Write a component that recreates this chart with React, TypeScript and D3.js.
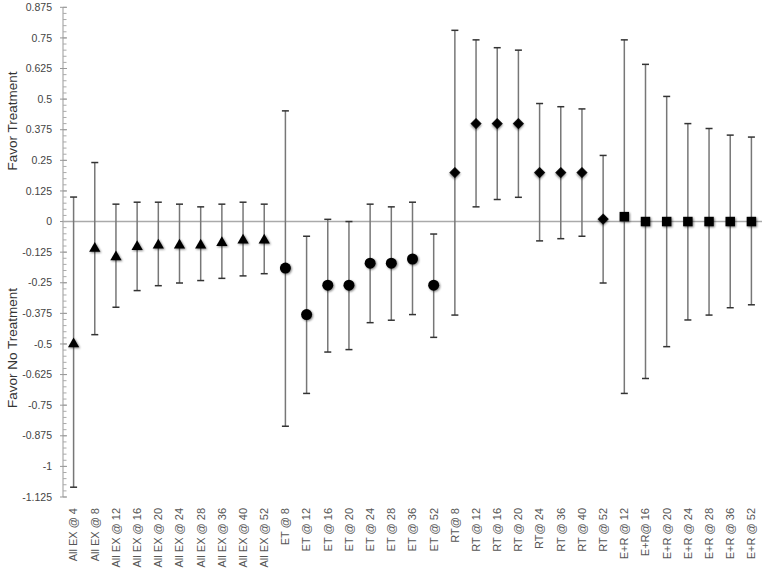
import React from 'react';
import * as d3 from 'd3';

const labels = [
  "All EX @ 4", "All EX @ 8", "All EX @ 12", "All EX @ 16", "All EX @ 20", "All EX @ 24",
  "All EX @ 28", "All EX @ 36", "All EX @ 40", "All EX @ 52",
  "ET @ 8", "ET @ 12", "ET @ 16", "ET @ 20", "ET @ 24", "ET @ 28", "ET @ 36", "ET @ 52",
  "RT@ 8", "RT @ 12", "RT @ 16", "RT @ 20", "RT@ 24", "RT @ 36", "RT @ 40", "RT @ 52",
  "E+R @ 12", "E+R@ 16", "E+R @ 20", "E+R @ 24", "E+R @ 28", "E+R @ 36", "E+R @ 52"
];

// marker group per category
const groups = [
  "tri", "tri", "tri", "tri", "tri", "tri", "tri", "tri", "tri", "tri",
  "circle", "circle", "circle", "circle", "circle", "circle", "circle", "circle",
  "diamond", "diamond", "diamond", "diamond", "diamond", "diamond", "diamond", "diamond",
  "square", "square", "square", "square", "square", "square", "square"
];

const estimates = [
  -0.5, -0.11, -0.145, -0.103, -0.097, -0.097, -0.097, -0.087, -0.076, -0.076,
  -0.19, -0.38, -0.26, -0.26, -0.17, -0.17, -0.153, -0.26,
  0.2, 0.4, 0.4, 0.4, 0.2, 0.2, 0.2, 0.01,
  0.02, 0, 0, 0, 0, 0, 0
];

const upper = [
  0.1, 0.241, 0.071, 0.079, 0.079, 0.071, 0.06, 0.071, 0.079, 0.071,
  0.452, -0.06, 0.009, 0.0, 0.071, 0.06, 0.079, -0.051,
  0.781, 0.742, 0.71, 0.7, 0.482, 0.469, 0.46, 0.27,
  0.742, 0.642, 0.511, 0.4, 0.38, 0.353, 0.345
];

const lower = [
  -1.085, -0.462, -0.35, -0.282, -0.262, -0.251, -0.241, -0.232, -0.222, -0.213,
  -0.836, -0.702, -0.533, -0.523, -0.413, -0.403, -0.38, -0.473,
  -0.382, 0.06, 0.09, 0.099, -0.079, -0.07, -0.06, -0.251,
  -0.702, -0.641, -0.511, -0.402, -0.382, -0.352, -0.34
];

const yTicks = [0.875, 0.75, 0.625, 0.5, 0.375, 0.25, 0.125, 0, -0.125, -0.25, -0.375, -0.5,
  -0.625, -0.75, -0.875, -1, -1.125];

const width = 764;
const height = 573;
const marginLeft = 63;
const marginRight = 2;

const App = () => {
  const x = d3.scaleBand<string>()
    .domain(labels)
    .range([marginLeft, width - marginRight])
    .padding(0);

  const y = d3.scaleLinear()
    .domain([-1.125, 0.875])
    .range([497, 7.3]);

  const cx = (i: number) => (x(labels[i]) as number) + x.bandwidth() / 2;

  const minorTicks = d3.range(-1.125, 0.8751, 0.025);

  const tri = d3.symbol().type(d3.symbolTriangle).size(55)() as string;
  const sq = d3.symbol().type(d3.symbolSquare).size(90)() as string;
  const dia = d3.symbol().type(d3.symbolSquare).size(62)() as string;

  const marker = (g: string, i: number) => {
    const px = cx(i);
    const py = y(estimates[i]);
    if (g === "circle") return <circle key={i} cx={px} cy={py} r={5.5} fill="#000" filter="url(#sh)" />;
    if (g === "tri") return <path key={i} d={tri} transform={`translate(${px},${py})`} fill="#000" filter="url(#sh)" />;
    if (g === "square") return <path key={i} d={sq} transform={`translate(${px},${py})`} fill="#000" filter="url(#sh)" />;
    return <path key={i} d={dia} transform={`translate(${px},${py}) rotate(45)`} fill="#000" filter="url(#sh)" />;
  };

  return (
    <svg width={width} height={height} style={{ position: 'absolute', left: 0, top: 0, background: '#fff' }}
      fontFamily="'Liberation Sans', Arial, sans-serif">
      <defs>
        <filter id="sh" x="-50%" y="-50%" width="200%" height="200%">
          <feGaussianBlur in="SourceAlpha" stdDeviation="1.2" result="b" />
          <feOffset in="b" dx="0.5" dy="1" result="o" />
          <feComponentTransfer in="o" result="o2">
            <feFuncA type="linear" slope="0.5" />
          </feComponentTransfer>
          <feMerge>
            <feMergeNode in="o2" />
            <feMergeNode in="SourceGraphic" />
          </feMerge>
        </filter>
      </defs>

      {/* y axis */}
      <line x1={marginLeft} x2={marginLeft} y1={y(0.875)} y2={y(-1.125)} stroke="#999" strokeWidth={1} />
      {minorTicks.map((t, i) => (
        <line key={i} x1={marginLeft} x2={marginLeft + 3.5} y1={y(t)} y2={y(t)} stroke="#aaa" strokeWidth={1} />
      ))}
      {yTicks.map(t => (
        <g key={t}>
          <line x1={marginLeft - 3} x2={marginLeft + 4} y1={y(t)} y2={y(t)} stroke="#999" strokeWidth={1} />
          <text x={52} y={y(t)} dy="0.35em" textAnchor="end" fontSize={10.5} fill="#444">{t}</text>
        </g>
      ))}

      {/* zero line */}
      <line x1={marginLeft} x2={width - marginRight} y1={y(0)} y2={y(0)} stroke="#aaa" strokeWidth={1.5} />

      {/* error bars */}
      {labels.map((l, i) => (
        <g key={l}>
          <line x1={cx(i)} x2={cx(i)} y1={y(upper[i])} y2={y(lower[i])} stroke="#777" strokeWidth={1.5} />
          <line x1={cx(i) - 3.5} x2={cx(i) + 3.5} y1={y(upper[i])} y2={y(upper[i])} stroke="#333" strokeWidth={1.5} />
          <line x1={cx(i) - 3.5} x2={cx(i) + 3.5} y1={y(lower[i])} y2={y(lower[i])} stroke="#333" strokeWidth={1.5} />
        </g>
      ))}

      {/* markers */}
      {groups.map((g, i) => marker(g, i))}

      {/* x labels */}
      {labels.map((l, i) => (
        <text key={l} transform={`translate(${cx(i)},508) rotate(-90)`} dy="0.35em" textAnchor="end"
          fontSize={11} fill="#555">{l}</text>
      ))}

      {/* y titles */}
      <text transform="translate(12,121) rotate(-90)" dy="0.35em" textAnchor="middle" fontSize={13.5} fill="#333">Favor Treatment</text>
      <text transform="translate(12,348) rotate(-90)" dy="0.35em" textAnchor="middle" fontSize={13.5} fill="#333">Favor No Treatment</text>
    </svg>
  );
};

export default App;
